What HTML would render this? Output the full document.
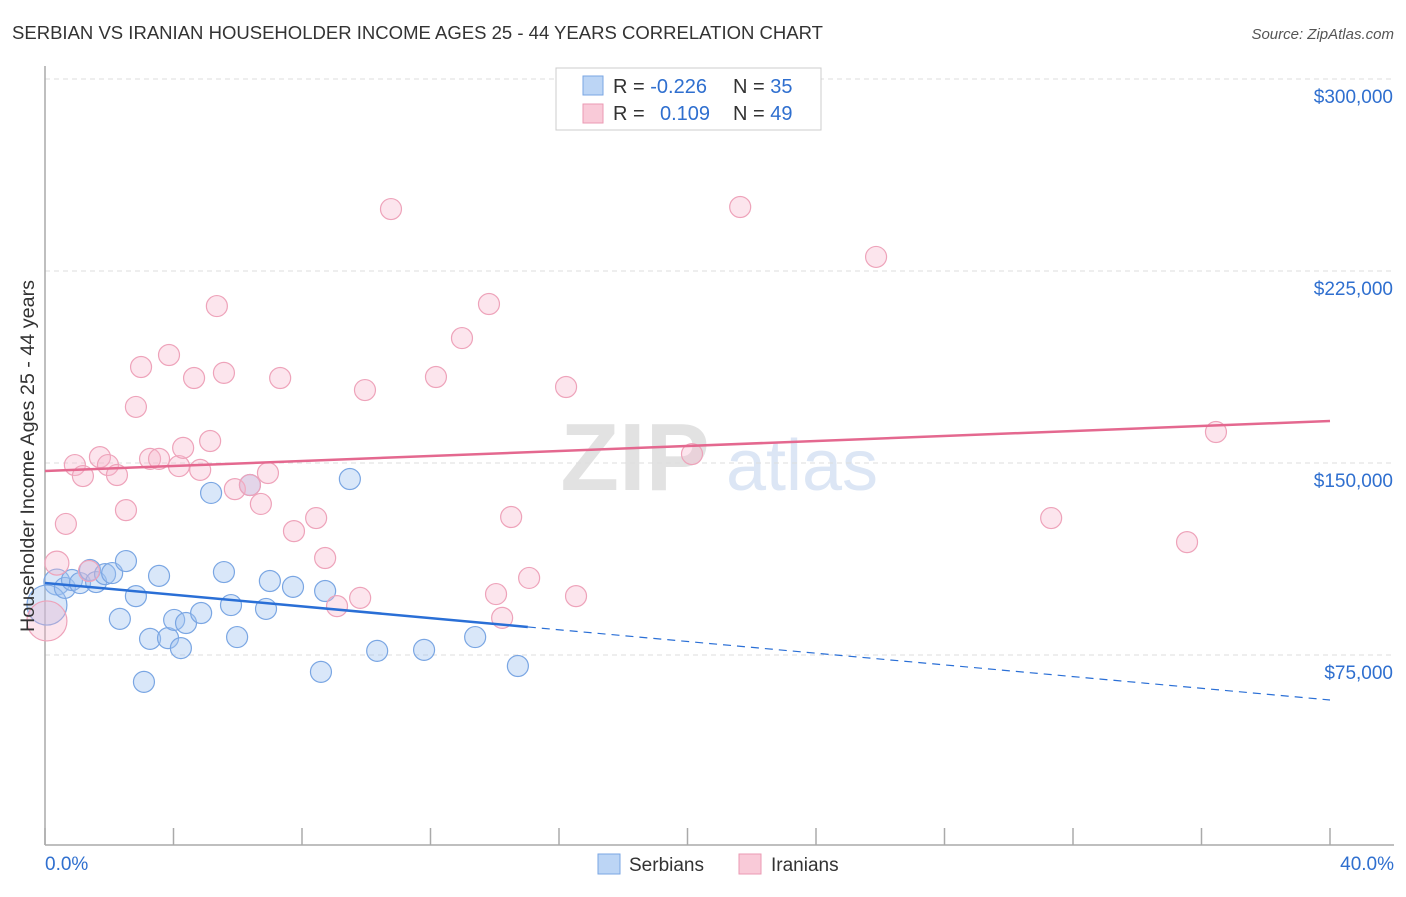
<!DOCTYPE html>
<html><head><meta charset="utf-8"><style>
body{margin:0;background:#fff;font-family:"Liberation Sans",sans-serif}
svg text{font-family:"Liberation Sans",sans-serif}
</style></head><body>
<svg id="chart" width="1406" height="892">
<text x="12" y="39" font-size="18" fill="#333" textLength="811" lengthAdjust="spacingAndGlyphs">SERBIAN VS IRANIAN HOUSEHOLDER INCOME AGES 25 - 44 YEARS CORRELATION CHART</text>
<text x="1394" y="39" font-size="15" fill="#555" font-style="italic" text-anchor="end">Source: ZipAtlas.com</text>
<g>
<text x="635" y="490" font-size="96" fill="#e2e2e2" font-family="Liberation Serif" text-anchor="middle" font-weight="bold">ZIP</text>
<text x="802" y="490" font-size="72" fill="#dce6f5" text-anchor="middle">atlas</text>
</g>
<g id="grid"></g>
<g id="axes"></g>
<g id="marks"></g>
<text transform="translate(34,456) rotate(-90)" font-size="19" fill="#333" text-anchor="middle" textLength="352" lengthAdjust="spacingAndGlyphs">Householder Income Ages 25 - 44 years</text>
<g>
<rect x="556" y="68" width="265" height="62" fill="#fff" stroke="#ccc"/>
<rect x="583" y="76" width="20" height="19" fill="#bcd5f5" stroke="#7aa6e3"/>
<rect x="583" y="104" width="20" height="19" fill="#f9cad8" stroke="#eb9ab3"/>
<text x="613" y="93" font-size="20" fill="#333">R = <tspan fill="#2f6fcf">-0.226</tspan><tspan x="733">N = </tspan><tspan fill="#2f6fcf">35</tspan></text>
<text x="613" y="120" font-size="20" fill="#333">R = <tspan x="660" fill="#2f6fcf">0.109</tspan><tspan x="733">N = </tspan><tspan fill="#2f6fcf">49</tspan></text>
</g>
<g>
<rect x="598" y="854" width="22" height="20" fill="#bcd5f5" stroke="#7aa6e3"/>
<text x="629" y="871" font-size="19" fill="#333">Serbians</text>
<rect x="739" y="854" width="22" height="20" fill="#f9cad8" stroke="#eb9ab3"/>
<text x="771" y="871" font-size="19" fill="#333">Iranians</text>
</g>
</svg>
<script>
const yTicks=[75000,150000,225000,300000];
const yTickLabels=["$75,000","$150,000","$225,000","$300,000"];
const xTicks=[0,4,8,12,16,20,24,28,32,36,40];
const serbX=[0.37,0.06,0.62,0.84,1.09,1.40,1.59,1.87,2.09,2.52,2.33,2.83,3.55,3.27,3.83,4.02,4.23,4.39,4.86,5.17,5.57,5.79,5.98,6.38,6.88,7.00,7.72,8.72,8.59,9.49,10.34,11.80,13.39,14.72,3.08];
const serbY=[103.5,94.5,101.2,104.3,103.1,108.2,103.5,106.6,107.0,111.7,89.1,98.0,105.9,81.3,81.6,88.7,77.7,87.5,91.4,138.3,107.4,94.5,82.0,141.4,93.0,103.9,101.6,100.0,68.4,143.75,76.6,77.0,82.0,70.7,64.5];
const serbR=[13,20,10.5,10.5,10.5,10.5,10.5,10.5,10.5,10.5,10.5,10.5,10.5,10.5,10.5,10.5,10.5,10.5,10.5,10.5,10.5,10.5,10.5,10.5,10.5,10.5,10.5,10.5,10.5,10.5,10.5,10.5,10.5,10.5,10.5];
const iranX=[0.06,0.37,0.65,0.93,1.18,1.37,1.71,1.96,2.24,2.52,2.83,2.99,3.27,3.55,3.86,4.17,4.30,4.64,4.83,5.14,5.35,5.57,5.91,6.38,6.72,6.94,7.32,7.75,8.44,8.72,9.09,9.81,9.96,10.77,12.17,12.98,13.82,14.04,14.23,14.51,15.07,16.22,16.53,20.14,21.64,25.87,31.32,35.55,36.45];
const iranY=[88.3,110.9,126.2,149.2,144.9,107.8,152.3,149.2,145.3,131.6,171.9,187.5,151.6,151.6,192.2,148.8,155.9,183.2,147.3,158.6,211.3,185.2,139.8,141.4,134.0,146.1,183.2,123.4,128.5,112.9,94.1,97.3,178.5,249.2,183.6,198.8,212.1,98.8,89.5,128.9,105.1,179.7,98.0,153.5,250.0,230.5,128.5,119.1,162.1];
const iranR=[20,12,10.5,10.5,10.5,10.5,10.5,10.5,10.5,10.5,10.5,10.5,10.5,10.5,10.5,10.5,10.5,10.5,10.5,10.5,10.5,10.5,10.5,10.5,10.5,10.5,10.5,10.5,10.5,10.5,10.5,10.5,10.5,10.5,10.5,10.5,10.5,10.5,10.5,10.5,10.5,10.5,10.5,10.5,10.5,10.5,10.5,10.5,10.5];
const serbTrend=[103125,57422];
const serbSolidEnd=15.03;
const iranTrend=[146875,166406];
const NS="http://www.w3.org/2000/svg";
function xs(p){return 45+p*(1330-45)/40;}
function ys(v){return 79+(300000-v)*192/75000;}
function mk(tag,attrs,parent){const e=document.createElementNS(NS,tag);for(const k in attrs)e.setAttribute(k,attrs[k]);parent.appendChild(e);return e;}
const grid=document.getElementById('grid'),axes=document.getElementById('axes'),marks=document.getElementById('marks');
yTicks.forEach((t,i)=>{
 const l=mk('line',{x1:45,x2:1394,y1:ys(t),y2:ys(t),stroke:'#ddd','stroke-dasharray':'5,4'},grid);
 
 
 const tx=mk('text',{x:1393,y:ys(t)+24,'font-size':19,fill:'#2f6fcf','text-anchor':'end'},axes);
 tx.textContent=yTickLabels[i];
 
 
});
const ya=mk('line',{x1:45,x2:45,y1:66,y2:845,stroke:'#aaa','stroke-width':1.5},axes);


const xa=mk('line',{x1:45,x2:1394,y1:845,y2:845,stroke:'#aaa','stroke-width':1.5},axes);


xTicks.forEach(t=>{
 const l=mk('line',{x1:xs(t),x2:xs(t),y1:828,y2:845,stroke:'#aaa','stroke-width':1.5},axes);
 
 
});
const x0=mk('text',{x:45,y:870,'font-size':19,fill:'#2f6fcf'},axes);x0.textContent='0.0%';


const x1=mk('text',{x:1394,y:870,'font-size':19,fill:'#2f6fcf','text-anchor':'end'},axes);x1.textContent='40.0%';


serbX.forEach((x,i)=>{
 const c=mk('circle',{cx:xs(x),cy:ys(serbY[i]*1000),r:serbR[i],fill:'rgba(160,196,240,0.4)',stroke:'#7aa6e3','stroke-width':1.2},marks);
 
 
});
iranX.forEach((x,i)=>{
 const c=mk('circle',{cx:xs(x),cy:ys(iranY[i]*1000),r:iranR[i],fill:'rgba(246,180,202,0.35)',stroke:'#eea3ba','stroke-width':1.2},marks);
 
 
});
function trendAt(tr,p){return tr[0]+(tr[1]-tr[0])*p/40;}
const it=mk('line',{x1:xs(0),y1:ys(iranTrend[0]),x2:xs(40),y2:ys(iranTrend[1]),stroke:'#e4688f','stroke-width':2.5},marks);


const st=mk('line',{x1:xs(0),y1:ys(serbTrend[0]),x2:xs(serbSolidEnd),y2:ys(trendAt(serbTrend,serbSolidEnd)),stroke:'#2a6fd6','stroke-width':2.5},marks);


const sd=mk('line',{x1:xs(serbSolidEnd),y1:ys(trendAt(serbTrend,serbSolidEnd)),x2:xs(40),y2:ys(serbTrend[1]),stroke:'#2a6fd6','stroke-width':1.2,'stroke-dasharray':'8,6'},marks);


</script>
</body></html>
